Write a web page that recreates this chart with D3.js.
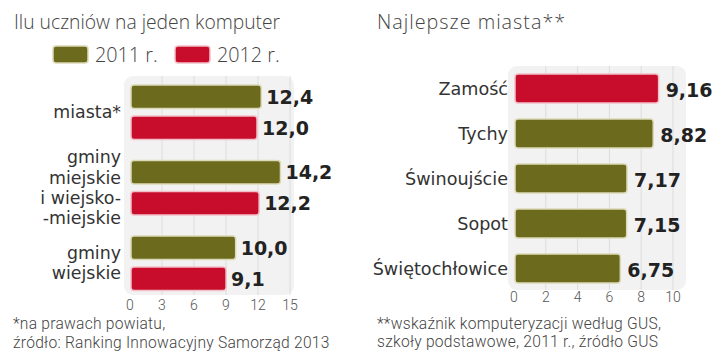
<!DOCTYPE html>
<html><head><meta charset="utf-8">
<script src="https://cdn.jsdelivr.net/npm/d3@7"></script>
<style>
html,body{margin:0;padding:0;background:#fff;}
svg{display:block;}
</style></head>
<body>
<script>
// ---- data ----
const leftTitle = "Ilu uczniów na jeden komputer";
const leftCategories = ["miasta*", "gminy miejskie i wiejsko-miejskie", "gminy wiejskie"];
const leftCategoryLines = [["miasta*"], ["gminy", "miejskie", "i wiejsko-", "-miejskie"], ["gminy", "wiejskie"]];
const seriesNames = ["2011 r.", "2012 r."];
const values2011 = [12.4, 14.2, 10.0];
const values2012 = [12.0, 12.2, 9.1];
const leftTicks = [0, 3, 6, 9, 12, 15];
const leftNotes = ["*na prawach powiatu,", "źródło: Ranking Innowacyjny Samorząd 2013"];

const rightTitle = "Najlepsze miasta**";
const rightCategories = ["Zamość", "Tychy", "Świnoujście", "Sopot", "Świętochłowice"];
const rightValues = [9.16, 8.82, 7.17, 7.15, 6.75];
const rightHighlight = [true, false, false, false, false];
const rightTicks = [0, 2, 4, 6, 8, 10];
const rightNotes = ["**wskaźnik komputeryzacji według GUS,", "szkoły podstawowe, 2011 r., źródło GUS"];

// ---- styles ----
const GREEN = "#6c6a1d", GREEN_S = "#dcd9b8";
const RED = "#c70d2b", RED_S = "#f2c0c8";
const fmt = (v, d) => v.toFixed(d).replace(".", ",");
const FONT = "'Open Sans', 'Noto Sans', sans-serif";
const NOTE = "Roboto, 'Open Sans', sans-serif";
const LABEL = "'DejaVu Sans', sans-serif";
const BOLD = "'DejaVu Sans', sans-serif";

const svg = d3.select("body").append("svg").attr("width", 720).attr("height", 364);

// ================= LEFT =================
svg.append("text").attr("x", 14).attr("y", 29).text(leftTitle)
  .attr("font-family", FONT).attr("font-weight", 300).attr("font-size", 19.3).attr("fill", "#444");

// legend
const legend = svg.append("g");
const legX = [53, 175];
seriesNames.forEach((s, i) => {
  legend.append("rect").attr("x", legX[i]).attr("y", 46).attr("width", 35).attr("height", 17).attr("rx", 3)
    .attr("fill", i === 0 ? GREEN : RED).attr("stroke", i === 0 ? GREEN_S : RED_S).attr("stroke-width", 1.5);
  legend.append("text").attr("x", legX[i] + 42).attr("y", 62).text(s)
    .attr("font-family", FONT).attr("font-weight", 300).attr("font-size", 19.8).attr("fill", "#444");
});

const xL = d3.scaleLinear().domain([0, 15]).range([130, 290]);
const y0 = d3.scaleBand().domain(leftCategories).range([75, 301.5]);
const y1 = d3.scaleBand().domain(seriesNames).range([10, 64.5]).paddingInner(0.242);

svg.append("rect").attr("x", 124).attr("y", 76).attr("width", 170).attr("height", 219).attr("rx", 9).attr("fill", "#f2f2f2");
svg.append("g").selectAll("line").data(leftTicks.slice(1)).join("line")
  .attr("x1", d => xL(d)).attr("x2", d => xL(d)).attr("y1", 76).attr("y2", 295)
  .attr("stroke", "#dcdcdc").attr("stroke-width", 1);

const leftData = [];
leftCategories.forEach((c, i) => {
  leftData.push({cat: c, s: seriesNames[0], v: values2011[i]});
  leftData.push({cat: c, s: seriesNames[1], v: values2012[i]});
});
const lg = svg.append("g");
lg.selectAll("rect").data(leftData).join("rect")
  .attr("x", xL(0) + 1).attr("y", d => y0(d.cat) + y1(d.s))
  .attr("width", d => xL(d.v) - xL(0) - 2).attr("height", y1.bandwidth()).attr("rx", 3)
  .attr("fill", d => d.s === seriesNames[0] ? GREEN : RED)
  .attr("stroke", d => d.s === seriesNames[0] ? GREEN_S : RED_S).attr("stroke-width", 1.5);
lg.selectAll("text").data(leftData).join("text")
  .attr("x", d => xL(d.v) + 4).attr("y", d => y0(d.cat) + y1(d.s) + y1.bandwidth() / 2 + 7)
  .text(d => fmt(d.v, 1))
  .attr("font-family", BOLD).attr("font-weight", 700).attr("font-size", 19).attr("fill", "#222");

// category labels
leftCategories.forEach((c, i) => {
  const lines = leftCategoryLines[i];
  const cy = y0(c) + y0.bandwidth() / 2;
  const lh = 20.4;
  lines.forEach((l, j) => {
    svg.append("text").attr("text-anchor", "end")
      .attr("font-family", LABEL).attr("font-size", 17.4).attr("fill", "#333")
      .attr("x", 121).attr("y", cy + (j - (lines.length - 1) / 2) * lh + 5.5).text(l);
  });
});

// axis labels
svg.append("g").selectAll("text").data(leftTicks).join("text")
  .attr("x", d => xL(d)).attr("y", 310).attr("text-anchor", "middle").text(d => d)
  .attr("font-family", NOTE).attr("font-weight", 300).attr("font-size", 14).attr("fill", "#555");

leftNotes.forEach((n, i) => {
  svg.append("text").attr("x", 13).attr("y", 329 + i * 18.5).text(n)
    .attr("font-family", NOTE).attr("font-weight", 300).attr("font-size", 15.6)
    .attr("letter-spacing", 0.25).attr("fill", "#444");
});

// ================= RIGHT =================
svg.append("text").attr("x", 377).attr("y", 29).text(rightTitle)
  .attr("font-family", FONT).attr("font-weight", 300).attr("font-size", 19.8)
  .attr("letter-spacing", 1).attr("fill", "#444");

const xR = d3.scaleLinear().domain([0, 10]).range([514, 673]);
const yR = d3.scaleBand().domain(rightCategories).range([74, 283]).paddingInner(16 / 45).paddingOuter(0);

svg.append("rect").attr("x", 508).attr("y", 66).attr("width", 178).attr("height", 224).attr("rx", 9).attr("fill", "#f2f2f2");
svg.append("g").selectAll("line").data(rightTicks.slice(1)).join("line")
  .attr("x1", d => xR(d)).attr("x2", d => xR(d)).attr("y1", 66).attr("y2", 290)
  .attr("stroke", "#dcdcdc").attr("stroke-width", 1);

const rightData = rightCategories.map((c, i) => ({cat: c, v: rightValues[i], h: rightHighlight[i]}));
const rg = svg.append("g");
rg.selectAll("rect").data(rightData).join("rect")
  .attr("x", xR(0) + 1).attr("y", d => yR(d.cat))
  .attr("width", d => xR(d.v) - xR(0) - 2).attr("height", yR.bandwidth()).attr("rx", 3)
  .attr("fill", d => d.h ? RED : GREEN).attr("stroke", d => d.h ? RED_S : GREEN_S).attr("stroke-width", 1.5);
rg.selectAll("text.v").data(rightData).join("text").attr("class", "v")
  .attr("x", d => xR(d.v) + 6).attr("y", d => yR(d.cat) + yR.bandwidth() / 2 + 8)
  .text(d => fmt(d.v, 2))
  .attr("font-family", BOLD).attr("font-weight", 700).attr("font-size", 19).attr("fill", "#222");
rg.selectAll("text.c").data(rightData).join("text").attr("class", "c")
  .attr("x", 508).attr("y", d => yR(d.cat) + yR.bandwidth() / 2 + 6.5).attr("text-anchor", "end")
  .text(d => d.cat)
  .attr("font-family", LABEL).attr("font-size", 17.6).attr("fill", "#333");

svg.append("g").selectAll("text").data(rightTicks).join("text")
  .attr("x", d => xR(d)).attr("y", 302).attr("text-anchor", "middle").text(d => d)
  .attr("font-family", NOTE).attr("font-weight", 300).attr("font-size", 14).attr("fill", "#555");

rightNotes.forEach((n, i) => {
  svg.append("text").attr("x", 377).attr("y", 329 + i * 18.2).text(n)
    .attr("font-family", NOTE).attr("font-weight", 300).attr("font-size", 15.6)
    .attr("letter-spacing", 0.25).attr("fill", "#444");
});
</script>
</body></html>
